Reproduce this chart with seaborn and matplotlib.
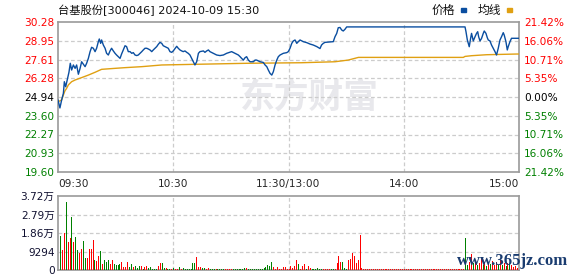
import numpy as np
import pandas as pd
import matplotlib
matplotlib.use("Agg")
import matplotlib.pyplot as plt
import seaborn as sns
from matplotlib.patches import Rectangle

# ---------------- data ----------------
title = "台基股份[300046] 2024-10-09 15:30"
prev_close = 24.94
price_ticks = [19.60, 20.93, 22.27, 23.60, 24.94, 26.28, 27.61, 28.95, 30.28]
pct_labels = ["21.42%", "16.06%", "10.71%", "5.35%", "0.00%", "5.35%", "10.71%", "16.06%", "21.42%"]
time_ticks = [0, 60, 120, 180, 240]
time_labels = ["09:30", "10:30", "11:30/13:00", "14:00", "15:00"]
vol_ticks = [0, 9294, 18588, 27882, 37176]
vol_labels = ["0", "9294", "1.86万", "2.79万", "3.72万"]

price_minutes = [0, 1.0, 1.9, 2.8, 3.3, 4.0, 5.0, 5.7, 6.4, 7.1, 8.0, 8.9, 9.7, 10.6, 11.5, 12.3, 13.2,
                 14.1, 14.9, 15.8, 16.7, 17.5, 18.4, 19.3, 20.1, 21.0, 21.5, 22.2, 22.7, 23.6, 24.5,
                 25.3, 26.2, 27.1, 27.9, 28.8, 29.7, 30.5, 31.4, 32.3, 33.1, 34.0, 34.9, 35.7, 36.6,
                 37.5, 38.4, 39.2, 40.1, 41.0, 41.8, 42.7, 43.6, 44.4, 45.3, 46.2, 47.0, 47.9, 48.8,
                 49.6, 50.5, 51.4, 52.2, 53.1, 54.0, 54.8, 55.7, 57.4, 58.3, 59.2, 60.0,
                 61.8, 62.6, 63.5, 64.4, 65.2, 66.1, 67.0, 67.8, 68.7, 69.6, 70.5, 71.3, 72.2, 73.1,
                 73.9, 75.7, 76.5, 77.4, 78.3, 79.1, 80.9, 81.7, 82.6, 84.3, 86.1, 87.8, 90.4, 92.2,
                 93.9, 94.8, 95.6, 96.5, 97.4, 98.2, 99.1, 100.0, 101.7, 102.6, 103.4, 105.2, 106.9,
                 107.8, 108.7, 109.5, 110.4, 111.3, 112.1, 113.0, 113.9, 114.7, 115.6, 117.3, 119.1,
                 119.9, 120.8, 121.7, 122.5, 123.4, 124.3, 125.1, 126.0, 127.7, 129.5, 131.2, 132.9,
                 134.7, 136.4, 137.2, 138.1, 139.0, 143.3, 144.2, 145.1, 145.9, 146.8, 147.7, 148.5,
                 149.4, 150.3, 211.9, 212.4, 213.1, 213.6, 214.1, 214.8, 215.3, 215.9, 216.2, 217.1,
                 217.9, 218.5, 219.0, 219.7, 220.5, 221.4, 221.9, 222.8, 223.5, 224.0, 224.9, 225.7,
                 226.6, 227.5, 228.3, 229.2, 230.1, 230.9, 231.8, 232.3, 233.2, 233.9, 234.4, 235.3,
                 236.1, 240]
price_values = [24.73, 24.16, 24.73, 25.20, 26.03, 25.67, 26.27, 26.70, 27.34, 26.86, 27.22, 26.98, 27.22,
                26.56, 26.98, 27.45, 27.27, 27.10, 27.34, 27.69, 28.17, 28.48, 28.41, 28.17, 28.41,
                28.88, 29.07, 28.76, 29.00, 28.64, 28.41, 28.05, 27.93, 28.22, 28.41, 28.22, 28.05,
                27.93, 27.81, 27.69, 28.00, 28.29, 28.59, 28.53, 28.17, 28.17, 28.05, 28.10, 27.93,
                27.89, 27.93, 28.05, 28.17, 28.29, 28.41, 28.41, 28.36, 28.29, 28.17, 28.29, 28.41,
                28.53, 28.69, 28.83, 28.76, 28.59, 28.53, 28.41, 28.17, 28.12, 28.22,
                28.55, 28.41, 28.29, 28.22, 28.17, 28.22, 28.12, 28.05, 27.93, 27.69, 27.45, 27.22,
                27.45, 28.05, 28.17, 28.22, 28.12, 28.22, 28.29, 28.17, 28.05, 28.00, 27.93, 27.89,
                27.93, 28.05, 28.17, 28.05, 27.93, 27.81, 27.69, 27.57, 27.74, 27.81, 27.57, 27.45,
                27.45, 27.57, 27.57, 27.45, 27.40, 27.22, 27.10, 26.86, 26.62, 26.50, 26.74, 27.22,
                27.57, 27.81, 27.93, 28.05, 28.10, 28.17, 28.41, 28.76, 28.93, 29.00, 28.76, 28.88,
                29.00, 28.88, 28.81, 28.71, 28.64, 28.53, 28.39, 28.64, 28.76, 28.83, 28.88, 29.23,
                29.47, 29.87, 29.89, 29.71, 29.64, 29.76, 29.93, 29.93, 29.59, 29.00, 28.76, 28.52,
                29.11, 29.47, 29.11, 28.93, 29.23, 29.47, 29.59, 29.23, 28.93, 29.11, 29.47, 29.64,
                29.47, 29.16, 29.00, 28.93, 28.64, 28.41, 28.17, 27.93, 28.41, 29.00, 29.23, 29.52,
                29.35, 28.88, 28.29, 28.53, 28.88, 29.12, 29.12]

avg_minutes = [0, 1.9, 2.8, 3.6, 4.5, 5.4, 7.1, 8.9, 12.3, 15.8, 19.3, 22.7, 29.7, 34.9, 43.6, 54.0,
               98.2, 126.8, 144.2, 151.1, 156.4, 211.0, 211.9, 215.3, 223.1, 238.8, 240]
avg_values = [24.60, 24.73, 25.08, 25.37, 25.56, 25.80, 26.03, 26.15, 26.32, 26.50, 26.70, 26.91, 26.98,
              27.03, 27.10, 27.22, 27.34, 27.38, 27.45, 27.57, 27.76, 27.76, 27.83, 27.88, 27.95,
              28.00, 28.00]

volume = [17085, 10050, 18760, 34170, 14240, 16080, 26800, 14240, 16750, 10050,
          8710, 10550, 14570, 6030, 6030, 10550, 10550, 15080, 5025, 4520,
          7035, 9550, 3015, 5025, 4020, 5025, 3015, 5025, 3015, 2510,
          2510, 3015, 4020, 1510, 1510, 4020, 1510, 3015, 1510, 2010,
          1170, 2010, 2010, 670, 1510, 2010, 1005, 1510, 670, 670,
          500, 2010, 3520, 3520, 1005, 1005, 500, 500, 500, 1005,
          500, 500, 1510, 500, 1005, 500, 500, 500, 500, 3520,
          3520, 6530, 1510, 1510, 1005, 1005, 500, 1005, 500, 500,
          500, 500, 500, 500, 500, 500, 500, 500, 500, 500,
          500, 500, 500, 500, 500, 500, 1005, 1005, 500, 500,
          500, 500, 500, 500, 500, 500, 1005, 1510, 2510, 2010,
          4020, 1510, 500, 1510, 500, 500, 1510, 1510, 500, 500,
          2010, 1005, 2010, 5025, 3015, 500, 2010, 3015, 500, 2010,
          1005, 500, 500, 500, 1005, 500, 500, 500, 500, 500,
          500, 500, 500, 500, 3520, 7035, 4020, 4020, 1005, 500,
          5025, 5530, 8540, 7035, 3520, 5025, 17590, 1005, 500, 500,
          500, 500, 400, 400, 400, 400, 400, 400, 400, 400,
          400, 400, 400, 400, 400, 400, 400, 400, 400, 400,
          400, 400, 400, 400, 400, 400, 400, 400, 400, 400,
          400, 400, 400, 400, 400, 400, 400, 400, 400, 400,
          400, 400, 400, 400, 400, 400, 400, 400, 400, 400,
          400, 16000, 2510, 4190, 8040, 3350, 4190, 2510, 3350, 5860,
          2510, 4190, 2010, 3685, 3015, 4690, 2510, 4190, 2510, 5025,
          2510, 3685, 2010, 3350, 3015, 2510, 1675, 2010, 840, 1005]
direction = list(
    "GRRGRRGRGG" "RRGGRRRRGR" "RGRGGGRRGG" "GGRRRRGGRG"
    "GGRGRRGGGG" "GRRGGRGGRG" "RRGRGGGGGG" "GRRRGGRRGG"
    "GRGGGGRRRR" "GGGGGGGRGG" "GGGGGGGGGG" "GRRRRRRRRR"
    "RRRRGRRRGR" "RGGGGGGRRR" "RGGRRRRGGG" "RRRRRRRRRR"
    "RRRRRRRRRR" "RRRRRRRRRR" "RRRRRRRRRR" "RRRRRRRRRR"
    "RRRRRRRRRR" "RGGRRGRGRR" "GRGRGRRRGR" "GRGRGRRRRR")
vol_minutes = list(range(1, 241))

# ---------------- style ----------------
sns.set_style("white")
plt.rcParams["font.family"] = ["DejaVu Sans", "Noto Sans CJK SC"]

RED = "#ff0000"
GREEN = "#008000"
BLUE = "#0a4ea0"
GOLD = "#e0a012"
FRAME = "#9a9a9a"
GRID = "#cccccc"
palette = {"R": RED, "G": GREEN}

W, H = 578, 276
fig = plt.figure(figsize=(W / 100, H / 100), dpi=100)

def box(x0, y0, x1, y1):
    return [x0 / W, 1 - y1 / H, (x1 - x0) / W, (y1 - y0) / H]

ax = fig.add_axes(box(58, 22, 519, 172))
axv = fig.add_axes(box(58, 196, 519, 270))

# watermark behind
ax.text(0.545, 0.5, "东方财富", transform=ax.transAxes, fontsize=25, fontweight="bold",
        color="#e8e8ec", ha="center", va="center", family=["Noto Sans CJK SC"], zorder=0)

sns.lineplot(x=avg_minutes, y=avg_values, ax=ax, color=GOLD, linewidth=1.0,
             estimator=None, sort=False, zorder=3)
sns.lineplot(x=price_minutes, y=price_values, ax=ax, color=BLUE, linewidth=1.0,
             estimator=None, sort=False, zorder=4)

df = pd.DataFrame({"minute": vol_minutes, "volume": volume, "dir": direction})
for key, col in palette.items():
    sub = df[df["dir"] == key]
    axv.vlines(sub["minute"], 0, sub["volume"], colors=col, linewidth=0.72,
               zorder=3, antialiased=False)

for a in (ax, axv):
    a.set_xlim(0, 240)
    a.set_xlabel("")
    a.set_ylabel("")
    for s in a.spines.values():
        s.set_color(FRAME)
        s.set_linewidth(1.2)
        s.set_visible(True)
    a.tick_params(length=0)
    for xv in time_ticks[1:-1]:
        a.axvline(xv, color=GRID, linestyle=(0, (3, 2)), linewidth=0.9, zorder=1)

ax.set_ylim(price_ticks[0], price_ticks[-1])
for yv in price_ticks[1:-1]:
    ax.axhline(yv, color=GRID, linestyle=(0, (3, 2)), linewidth=0.9, zorder=1)
ax.set_yticks(price_ticks)
ax.set_yticklabels([f"{v:.2f}" for v in price_ticks], fontsize=7.6)
ax.tick_params(axis="y", pad=2.5)
for lbl, v in zip(ax.get_yticklabels(), price_ticks):
    lbl.set_color(RED if v > prev_close + 1e-6 else (GREEN if v < prev_close - 1e-6 else "black"))

ax.set_xticks(time_ticks)
ax.set_xticklabels(time_labels, fontsize=7.6)
ax.tick_params(axis="x", pad=5)
xl = ax.get_xticklabels()
xl[0].set_ha("left")
xl[-1].set_ha("right")

axr = ax.twinx()
axr.set_ylim(price_ticks[0], price_ticks[-1])
axr.set_yticks(price_ticks)
axr.set_yticklabels(pct_labels, fontsize=7.6)
axr.tick_params(length=0, pad=3.5)
for s in axr.spines.values():
    s.set_visible(False)
for lbl, v in zip(axr.get_yticklabels(), price_ticks):
    lbl.set_color(RED if v > prev_close + 1e-6 else (GREEN if v < prev_close - 1e-6 else "black"))

axv.set_ylim(0, vol_ticks[-1])
for yv in vol_ticks[1:-1]:
    axv.axhline(yv, color=GRID, linestyle=(0, (3, 2)), linewidth=0.9, zorder=1)
axv.set_yticks(vol_ticks)
axv.set_yticklabels(vol_labels, fontsize=7.6, color="#101030")
axv.tick_params(axis="y", pad=2.5)
axv.set_xticks([])

# title and legend
fig.text(58 / W, 1 - 10 / H, title, fontsize=8.1, ha="left", va="center", color="#111111")
fig.text(455 / W, 1 - 10 / H, "价格", fontsize=8.5, ha="right", va="center", color="#111111")
fig.patches.append(Rectangle((461 / W, 1 - 11.5 / H), 5 / W, 3 / H, transform=fig.transFigure,
                             color=BLUE, figure=fig))
fig.text(501 / W, 1 - 10 / H, "均线", fontsize=8.5, ha="right", va="center", color="#111111")
fig.patches.append(Rectangle((507 / W, 1 - 11.5 / H), 5 / W, 3 / H, transform=fig.transFigure,
                             color=GOLD, figure=fig))

fig.text(513 / W, 1 - 261 / H, "www.365jz.com", fontsize=12, fontweight="bold",
         family=["Liberation Serif"], color="#1a3c70", ha="center", va="center", zorder=10)

fig.savefig("out.png", dpi=100)
